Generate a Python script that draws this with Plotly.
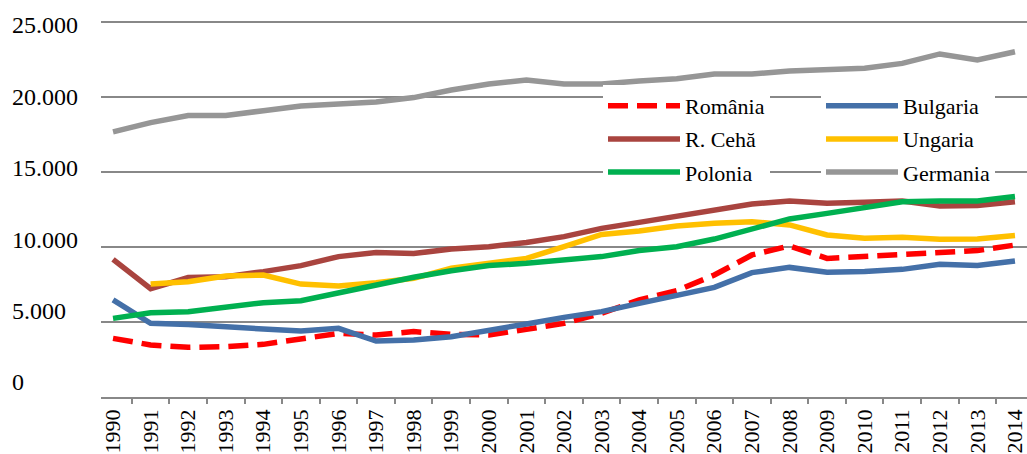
import plotly.graph_objects as go

years = [str(y) for y in range(1990, 2015)]

romania = [3910, 3470, 3310, 3360, 3510, 3910, 4240, 4130, 4360, 4180, 4130,
           4510, 4910, 5580, 6470, 7090, 8130, 9470, 10070, 9240, 9360, 9470, 9640, 9760, 10130]
bulgaria = [6470, 4910, 4840, 4730, 4530, 4400, 4580, 3730, 3800, 4020, 4400,
            4870, 5310, 5690, 6240, 6730, 7310, 8290, 8640, 8310, 8360, 8510, 8850, 8760, 9070]
ceha = [9180, 7220, 7960, 8020, 8360, 8760, 9360, 9640, 9560, 9870, 10020,
        10300, 10690, 11240, 11640, 12020, 12470, 12870, 13070, 12910, 12980, 13070, 12730, 12760, 13020]
ungaria = [None, 7530, 7690, 8070, 8130, 7530, 7400, 7620, 7910, 8580, 8910,
           9240, 10020, 10840, 11070, 11400, 11580, 11690, 11470, 10800, 10580, 10650, 10510, 10530, 10760]
polonia = [5240, 5620, 5690, 6020, 6290, 6420, 6960, 7530, 7980, 8420, 8760,
           8910, 9130, 9360, 9760, 10020, 10530, 11180, 11870, 12240, 12640, 13020, 13070, 13070, 13360]
germania = [17670, 18290, 18760, 18760, 19090, 19400, 19530, 19670, 19960, 20470, 20870,
            21130, 20870, 20870, 21070, 21220, 21530, 21530, 21730, 21800, 21910, 22240, 22870, 22470, 23020]

y_ticks = [0, 5000, 10000, 15000, 20000, 25000]

series = [
    ("România", romania, "#FF0000", "20px,9px", "legend"),
    ("Bulgaria", bulgaria, "#4470A8", "solid", "legend2"),
    ("R. Cehă", ceha, "#A9443F", "solid", "legend"),
    ("Ungaria", ungaria, "#FFC000", "solid", "legend2"),
    ("Polonia", polonia, "#00B050", "solid", "legend"),
    ("Germania", germania, "#969696", "solid", "legend2"),
]

W, H = 1027, 454
PLOT_L, PLOT_B = 101, 397          # plot area left / bottom (px)
PX_PER_UNIT = 0.015                # gridline scale
LAB_TOP, LAB_BOT = 25, 382         # tick-label centres of top / bottom tick (px)

fig = go.Figure()
for name, vals, color, dash, leg in series:
    fig.add_trace(go.Scatter(
        x=years, y=vals, name=name, mode="lines",
        line=dict(color=color, width=5.5, dash=dash),
        legend=leg, legendgroup=name,
    ))
# empty helper trace so the label-only axis gets a subplot
fig.add_trace(go.Scatter(x=[], y=[], yaxis="y2", showlegend=False, hoverinfo="skip"))

font_family = "'Times New Roman', 'Liberation Serif', Tinos, serif"

main_top = PLOT_B / PX_PER_UNIT
k2 = (LAB_BOT - LAB_TOP) / (y_ticks[-1] - y_ticks[0])
lo2, hi2 = -1000, 26500
pix_lo = LAB_BOT + (0 - lo2) * k2
pix_hi = LAB_TOP - (hi2 - y_ticks[-1]) * k2
dom2 = [(PLOT_B - pix_lo) / PLOT_B, (PLOT_B - pix_hi) / PLOT_B]

legend_common = dict(
    orientation="v", xanchor="left", yanchor="top", bgcolor="white", borderwidth=0,
    font=dict(size=22, family=font_family, color="black"),
    itemwidth=72, tracegroupgap=1.5, traceorder="grouped",
)

fig.update_layout(
    width=W, height=H,
    margin=dict(l=0, r=0, t=0, b=H - PLOT_B, pad=0),
    paper_bgcolor="white", plot_bgcolor="rgba(0,0,0,0)",
    separators=",.",
    font=dict(family=font_family, color="black", size=22),
    xaxis=dict(
        type="category", domain=[PLOT_L / W, 1], range=[-0.32, 24.32],
        tickson="boundaries", ticks="outside", ticklen=5, tickwidth=1.5,
        tickcolor="#888888", showline=True, linecolor="#888888", linewidth=1.5,
        showgrid=False, tickangle=-90, ticklabelstandoff=2,
        tickfont=dict(size=22, family=font_family, color="black"),
        automargin=False, anchor="y",
    ),
    yaxis=dict(
        range=[0, main_top], tickvals=y_ticks, showticklabels=False,
        showgrid=True, gridcolor="#888888", gridwidth=1.5,
        zeroline=False, showline=False, ticks="", automargin=False,
        domain=[0, 1],
    ),
    yaxis2=dict(
        range=[lo2, hi2], domain=dom2, tickvals=y_ticks, tickformat=",.0f",
        showgrid=False, zeroline=False, showline=False, ticks="",
        anchor="free", position=0, ticklabelposition="inside",
        ticklabelstandoff=8,
        tickfont=dict(size=24, family=font_family, color="black"),
        automargin=False,
    ),
    legend=dict(x=603 / W, y=1 - 85 / PLOT_B, **legend_common),
    legend2=dict(x=821 / W, y=1 - 85 / PLOT_B, **legend_common),
    showlegend=True,
)

fig.write_html(
    "out.html",
    config={"displayModeBar": False},
    post_script="document.body.style.margin='0';document.body.style.padding='0';",
)
